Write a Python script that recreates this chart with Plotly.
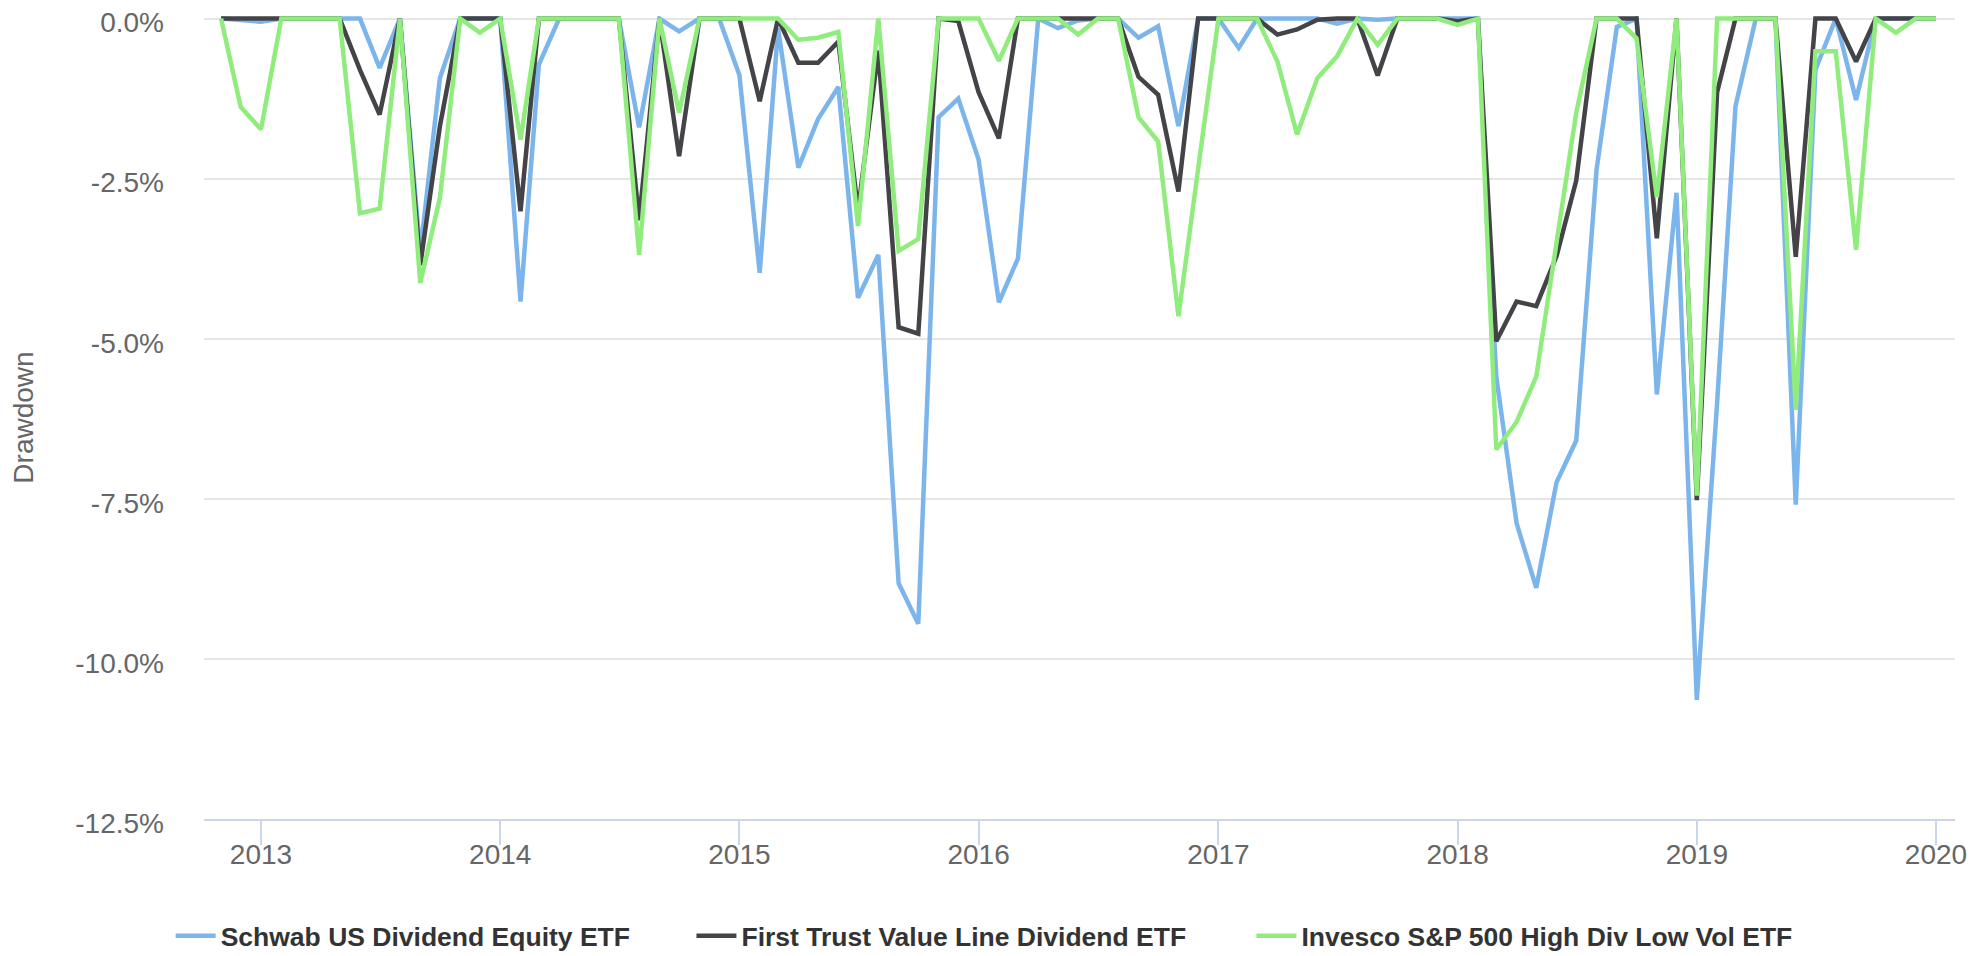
import pandas as pd
import plotly.graph_objects as go

# monthly drawdowns (%), Nov 2012 .. Jan 2020
months = pd.date_range("2012-11-01", "2020-01-01", freq="MS")

schwab = [
    0, -0.02, -0.05, 0, 0, 0, 0, 0, -0.77, 0,
    -3.65, -0.93, 0, 0, 0, -4.42, -0.72, 0, 0, 0,
    0, -1.70, 0, -0.20, 0, 0, -0.88, -3.97, -0.15, -2.33,
    -1.57, -1.07, -4.36, -3.69, -8.82, -9.45, -1.54, -1.25, -2.20, -4.43,
    -3.75, 0, -0.15, -0.03, 0, 0, -0.30, -0.12, -1.68, 0,
    0, -0.46, 0, 0, 0, 0, -0.08, 0, -0.02, 0,
    0, 0, 0, 0, -5.59, -7.88, -8.89, -7.24, -6.59, -2.36,
    -0.13, 0, -5.87, -2.72, -10.64, -6.00, -1.37, 0, 0, -7.59,
    -0.80, 0, -1.27, 0, 0, 0, 0,
]
first_trust = [
    0, 0, 0, 0, 0, 0, 0, -0.80, -1.50, 0,
    -3.85, -1.68, 0, 0, 0, -3.01, 0, 0, 0, 0,
    0, -3.15, 0, -2.15, 0, 0, 0, -1.29, 0, -0.69,
    -0.69, -0.36, -3.00, -0.50, -4.82, -4.92, 0, -0.04, -1.15, -1.87,
    0, 0, 0, 0, 0, 0, -0.91, -1.19, -2.70, 0,
    0, 0, 0, -0.25, -0.17, -0.02, 0, 0, -0.89, 0,
    0, 0, -0.04, 0, -5.04, -4.42, -4.49, -3.71, -2.53, 0,
    0, 0, -3.43, 0, -7.52, -1.15, 0, 0, 0, -3.72,
    0, 0, -0.67, 0, 0, 0, 0,
]
invesco = [
    0, -1.38, -1.73, 0, 0, 0, 0, -3.04, -2.97, 0,
    -4.13, -2.80, 0, -0.22, 0, -1.89, 0, 0, 0, 0,
    0, -3.69, 0, -1.47, 0, 0, 0, 0, 0, -0.33,
    -0.30, -0.21, -3.24, 0, -3.63, -3.44, 0, 0, 0, -0.66,
    0, 0, 0, -0.25, 0, 0, -1.54, -1.92, -4.65, -2.35,
    0, 0, 0, -0.67, -1.81, -0.93, -0.59, 0, -0.41, 0,
    0, 0, -0.10, 0, -6.73, -6.30, -5.59, -3.55, -1.47, 0,
    0, -0.31, -2.79, 0, -7.45, 0, 0, 0, 0, -6.11,
    -0.51, -0.51, -3.61, 0, -0.22, 0, 0,
]

series = [
    ("Schwab US Dividend Equity ETF", schwab, "#7cb5ec"),
    ("First Trust Value Line Dividend ETF", first_trust, "#434348"),
    ("Invesco S&P 500 High Div Low Vol ETF", invesco, "#90ed7d"),
]

y_ticks = [0, -2.5, -5, -7.5, -10, -12.5]
y_ticktext = [f"{v:.1f}%" for v in y_ticks]  # plain hyphen, not unicode minus

FONT = "Liberation Sans, Arial, Helvetica, sans-serif"

# one legend per series so each entry can sit where the original puts it
legend_ids = ["legend", "legend2", "legend3"]
legend_x = [0.0826, 0.3471, 0.6315]

fig = go.Figure()
for (name, vals, color), lid in zip(series, legend_ids):
    fig.add_trace(go.Scatter(
        x=months, y=vals, name=name, mode="lines",
        line=dict(color=color, width=4.5), legend=lid,
        hovertemplate="%{x|%b %Y}: %{y:.2f}%<extra>" + name + "</extra>",
    ))

legend_style = dict(
    orientation="h", xref="container", xanchor="left",
    yref="container", y=0.021, yanchor="middle",
    font=dict(size=26.5, color="#333333", weight="bold"),
    itemwidth=40, bgcolor="rgba(0,0,0,0)",
)

# page body has an 8px margin, so the figure is 8px smaller each way
fig.update_layout(
    width=1969, height=948,
    margin=dict(l=196, r=22, t=8, b=137),
    paper_bgcolor="white", plot_bgcolor="white",
    font=dict(family=FONT, color="#666666"),
    showlegend=True,
    xaxis=dict(
        range=["2012-10-06", "2020-01-30"],
        tick0="2013-01-01", dtick="M12", tickformat="%Y",
        showgrid=False, showline=True, linecolor="#ccd6eb", linewidth=2,
        ticks="outside", ticklen=24, tickwidth=2, tickcolor="#ccd6eb",
        tickfont=dict(size=28, color="#666666"),
        ticklabelstandoff=-15, ticklabeloverflow="allow",
        zeroline=False, automargin=False,
    ),
    yaxis=dict(
        range=[-12.5, 0.04],
        tickvals=y_ticks, ticktext=y_ticktext,
        showgrid=True, gridcolor="#e6e6e6", gridwidth=2,
        zeroline=False, showline=False,
        tickfont=dict(size=28, color="#666666"),
        ticklabelstandoff=39, ticklabelshift=4, ticklabeloverflow="allow",
        title=dict(text="Drawdown", font=dict(size=28, color="#666666"), standoff=42),
        automargin=False,
    ),
)
for lid, lx in zip(legend_ids, legend_x):
    fig.update_layout({lid: dict(legend_style, x=lx)})

fig.write_html("out.html")
